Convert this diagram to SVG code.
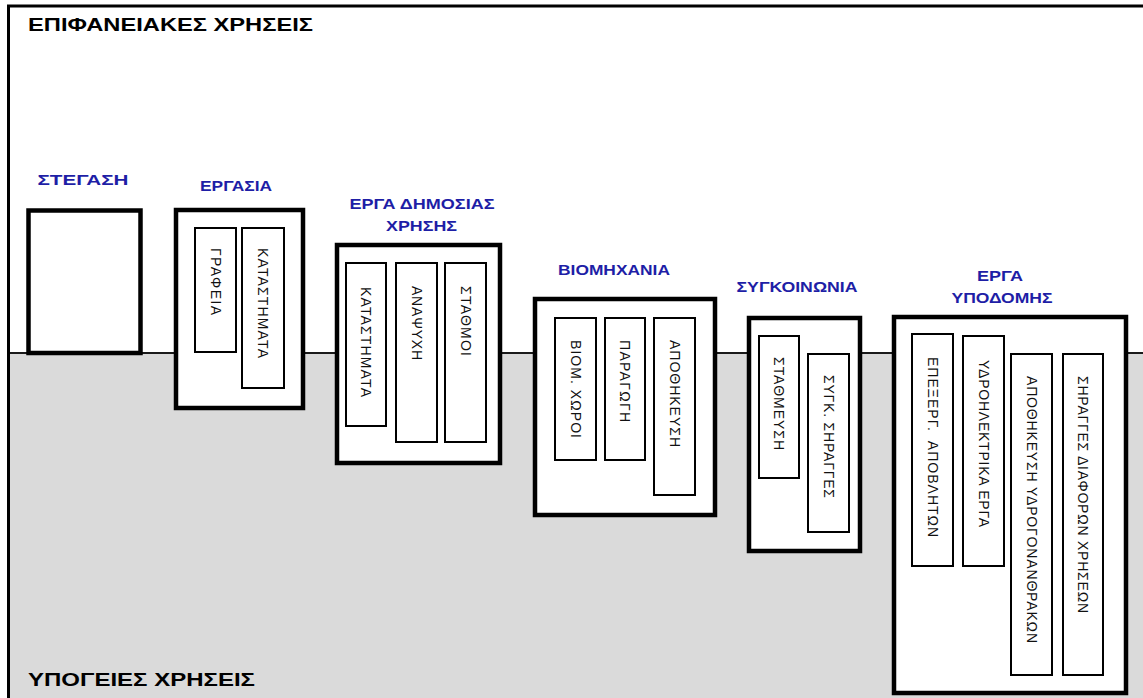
<svg xmlns="http://www.w3.org/2000/svg" width="1143" height="698" viewBox="0 0 1143 698">
<style>
.frame{stroke:#000;stroke-width:3;fill:none}
.ground{stroke:#1a1a1a;stroke-width:2}
.outer{fill:#fff;stroke:#000;stroke-width:4.5}
.inner{fill:#fff;stroke:#000;stroke-width:2}
.title{font-family:"Liberation Sans",Arial,sans-serif;font-weight:bold;font-size:19px;fill:#000}
.lbl{font-family:"Liberation Sans",Arial,sans-serif;font-weight:bold;font-size:14px;fill:#1e1ea6;text-anchor:middle}
.vt{font-family:"Liberation Sans",Arial,sans-serif;font-size:14px;fill:#111}
</style>
<rect x="0" y="0" width="1143" height="698" fill="#fff"/>
<rect x="9" y="354" width="1134" height="344" fill="#dadada"/>
<g id="background">
<line class="ground" x1="9" y1="353" x2="1143" y2="353"/>
<line class="frame" x1="7" y1="6" x2="1143" y2="6"/>
<line class="frame" x1="8.5" y1="5" x2="8.5" y2="698"/>
<text class="title" x="28" y="31" textLength="285" lengthAdjust="spacingAndGlyphs">ΕΠΙΦΑΝΕΙΑΚΕΣ ΧΡΗΣΕΙΣ</text>
<text class="title" x="28" y="686" textLength="227" lengthAdjust="spacingAndGlyphs">ΥΠΟΓΕΙΕΣ ΧΡΗΣΕΙΣ</text>
</g>
<g id="connectors"></g>
<g id="stegasi">
<text class="lbl" x="83" y="185" textLength="91" lengthAdjust="spacingAndGlyphs">ΣΤΕΓΑΣΗ</text>
<rect class="outer" x="28.5" y="210.5" width="112" height="142.5"/>
</g>
<g id="ergasia">
<text class="lbl" x="236" y="191" textLength="72" lengthAdjust="spacingAndGlyphs">ΕΡΓΑΣΙΑ</text>
<rect class="outer" x="176" y="210" width="127" height="198"/>
<rect class="inner" x="195" y="228" width="41" height="124"/>
<rect class="inner" x="242" y="228" width="42" height="160"/>
<text class="vt" x="210.5" y="248" transform="rotate(90 210.5 248)" textLength="67">ΓΡΑΦΕΙΑ</text>
<text class="vt" x="258" y="248" transform="rotate(90 258 248)" textLength="110">ΚΑΤΑΣΤΗΜΑΤΑ</text>
</g>
<g id="dimosia">
<text class="lbl" x="422" y="209" textLength="145" lengthAdjust="spacingAndGlyphs">ΕΡΓΑ ΔΗΜΟΣΙΑΣ</text>
<text class="lbl" x="421.5" y="231" textLength="71" lengthAdjust="spacingAndGlyphs">ΧΡΗΣΗΣ</text>
<rect class="outer" x="337" y="245" width="163" height="218"/>
<rect class="inner" x="346" y="263" width="40" height="163"/>
<rect class="inner" x="396" y="263" width="41" height="179"/>
<rect class="inner" x="445" y="263" width="41" height="179"/>
<text class="vt" x="361" y="287" transform="rotate(90 361 287)" textLength="110">ΚΑΤΑΣΤΗΜΑΤΑ</text>
<text class="vt" x="411.5" y="286" transform="rotate(90 411.5 286)" textLength="74">ΑΝΑΨΥΧΗ</text>
<text class="vt" x="460.5" y="286" transform="rotate(90 460.5 286)" textLength="70">ΣΤΑΘΜΟΙ</text>
</g>
<g id="biomixania">
<text class="lbl" x="614" y="275" textLength="112" lengthAdjust="spacingAndGlyphs">ΒΙΟΜΗΧΑΝΙΑ</text>
<rect class="outer" x="535" y="299" width="180" height="216"/>
<rect class="inner" x="555" y="318" width="41" height="142"/>
<rect class="inner" x="605" y="318" width="40" height="142"/>
<rect class="inner" x="654" y="318" width="41" height="177"/>
<text class="vt" x="570.5" y="340" transform="rotate(90 570.5 340)" textLength="98">ΒΙΟΜ. ΧΩΡΟΙ</text>
<text class="vt" x="620" y="340" transform="rotate(90 620 340)" textLength="82">ΠΑΡΑΓΩΓΗ</text>
<text class="vt" x="669.5" y="340" transform="rotate(90 669.5 340)" textLength="107">ΑΠΟΘΗΚΕΥΣΗ</text>
</g>
<g id="sygkoinonia">
<text class="lbl" x="797" y="292" textLength="121" lengthAdjust="spacingAndGlyphs">ΣΥΓΚΟΙΝΩΝΙΑ</text>
<rect class="outer" x="749" y="318" width="111" height="233"/>
<rect class="inner" x="759" y="336" width="40" height="142"/>
<rect class="inner" x="808" y="354" width="41" height="178"/>
<text class="vt" x="774" y="357" transform="rotate(90 774 357)" textLength="93">ΣΤΑΘΜΕΥΣΗ</text>
<text class="vt" x="823.5" y="375" transform="rotate(90 823.5 375)" textLength="123">ΣΥΓΚ. ΣΗΡΑΓΓΕΣ</text>
</g>
<g id="ypodomis">
<text class="lbl" x="1000" y="281" textLength="46" lengthAdjust="spacingAndGlyphs">ΕΡΓΑ</text>
<text class="lbl" x="1002" y="303" textLength="101" lengthAdjust="spacingAndGlyphs">ΥΠΟΔΟΜΗΣ</text>
<rect class="outer" x="894" y="317" width="232" height="376"/>
<rect class="inner" x="912" y="334" width="41" height="232"/>
<rect class="inner" x="963" y="336" width="41" height="230"/>
<rect class="inner" x="1011" y="354" width="41" height="321"/>
<rect class="inner" x="1063" y="354" width="40" height="321"/>
<text class="vt" x="927.5" y="357" transform="rotate(90 927.5 357)" textLength="180" xml:space="preserve">ΕΠΕΞΕΡΓ.  ΑΠΟΒΛΗΤΩΝ</text>
<text class="vt" x="978.5" y="360" transform="rotate(90 978.5 360)" textLength="167">ΥΔΡΟΗΛΕΚΤΡΙΚΑ ΕΡΓΑ</text>
<text class="vt" x="1026.5" y="376" transform="rotate(90 1026.5 376)" textLength="267">ΑΠΟΘΗΚΕΥΣΗ ΥΔΡΟΓΟΝΑΝΘΡΑΚΩΝ</text>
<text class="vt" x="1078" y="376" transform="rotate(90 1078 376)" textLength="237">ΣΗΡΑΓΓΕΣ ΔΙΑΦΟΡΩΝ ΧΡΗΣΕΩΝ</text>
</g>
</svg>
